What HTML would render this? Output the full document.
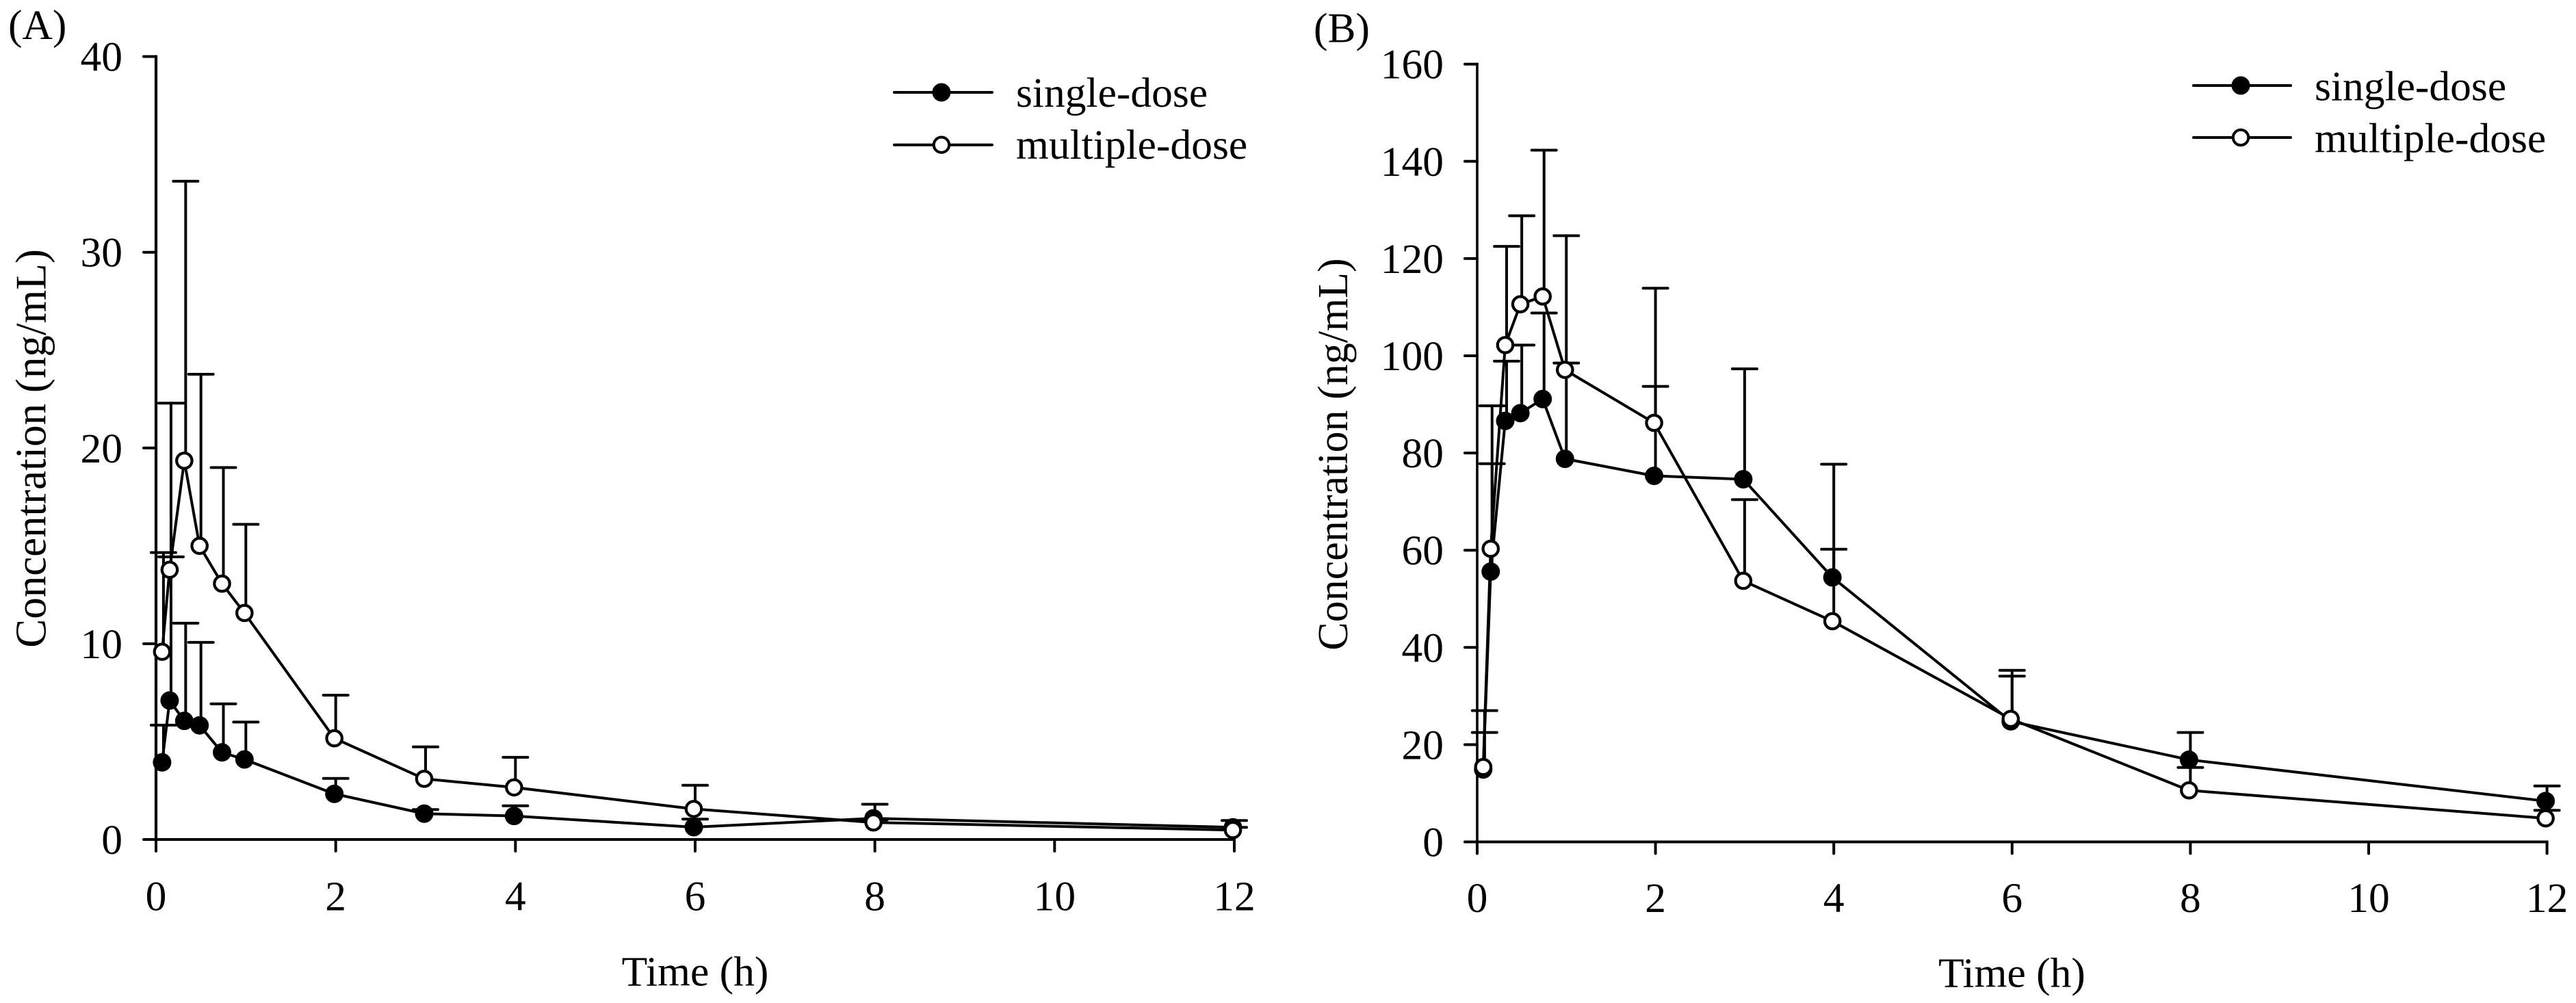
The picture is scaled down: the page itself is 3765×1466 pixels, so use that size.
<!DOCTYPE html>
<html lang="en">
<head>
<meta charset="utf-8">
<title>Concentration vs time, panels A and B</title>
<style>
  html, body { margin: 0; padding: 0; background: #fff; }
  svg { display: block; }
  text { font-family: "Liberation Serif", "Times New Roman", serif; font-size: 61.5px; fill: #000; }
</style>
</head>
<body>
<svg id="chart" xmlns="http://www.w3.org/2000/svg" width="3765" height="1466" viewBox="0 0 3765 1466">
  <rect x="0" y="0" width="3765" height="1466" fill="#fff"/>

  <g id="panel-a">
    <text x="12" y="57">(A)</text>
    <text transform="translate(66.5 655.5) rotate(-90)" text-anchor="middle" style="font-size:63px">Concentration (ng/mL)</text>
    <text x="1016" y="1440.5" text-anchor="middle">Time (h)</text>
    <g>
      <g>
        <line x1="1307" y1="135" x2="1450" y2="135" stroke="#000" stroke-width="4" stroke-linecap="round"/>
        <circle cx="1376" cy="135" r="13.5" fill="#000"/>
        <text x="1485" y="156">single-dose</text>
      </g>
      <g>
        <line x1="1307" y1="211.7" x2="1450" y2="211.7" stroke="#000" stroke-width="4" stroke-linecap="round"/>
        <circle cx="1376" cy="211.7" r="11.2" fill="#fff" stroke="#000" stroke-width="4"/>
        <text x="1485" y="232">multiple-dose</text>
      </g>
    </g>
  </g>

  <g id="panel-b">
    <text x="1920" y="61.5">(B)</text>
    <text transform="translate(1969 664) rotate(-90)" text-anchor="middle" style="font-size:62px">Concentration (ng/mL)</text>
    <text x="2940.5" y="1442.5" text-anchor="middle">Time (h)</text>
    <g>
      <g>
        <line x1="3206" y1="125" x2="3348" y2="125" stroke="#000" stroke-width="4" stroke-linecap="round"/>
        <circle cx="3275" cy="125" r="13.5" fill="#000"/>
        <text x="3383" y="146.7">single-dose</text>
      </g>
      <g>
        <line x1="3206" y1="201" x2="3348" y2="201" stroke="#000" stroke-width="4" stroke-linecap="round"/>
        <circle cx="3275" cy="201" r="11.2" fill="#fff" stroke="#000" stroke-width="4"/>
        <text x="3383" y="222.5">multiple-dose</text>
      </g>
    </g>
  </g>
</svg>

<script>
// Shared sampling times and tick labels
const timeHours = [0.083, 0.167, 0.33, 0.5, 0.75, 1, 2, 3, 4, 6, 8, 12];
const xTickLabels = [0, 2, 4, 6, 8, 10, 12];

// Panel A values (ng/mL)
const aYTickLabels = [0, 10, 20, 30, 40];
const aSingleMean = [3.94, 7.10, 6.06, 5.83, 4.45, 4.09, 2.33, 1.32, 1.20, 0.63, 1.08, 0.62];
const aSingleUpper = [5.84, 14.44, 11.05, 10.07, 6.93, 6.00, 3.12, 1.53, 1.72, 1.04, 1.80, 0.97];
const aMultipleMean = [9.59, 13.78, 19.35, 15.00, 13.07, 11.57, 5.17, 3.10, 2.66, 1.56, 0.87, 0.48];
const aMultipleUpper = [14.66, 22.29, 33.63, 23.77, 19.00, 16.10, 7.37, 4.73, 4.20, 2.77, 1.00, 0.62];

// Panel B values (ng/mL)
const bYTickLabels = [0, 20, 40, 60, 80, 100, 120, 140, 160];
const bSingleMean = [14.9, 55.6, 86.6, 88.2, 91.1, 78.8, 75.3, 74.6, 54.4, 24.8, 16.9, 8.4];
const bSingleUpper = [22.5, 77.8, 98.9, 102.2, 108.8, 98.5, 93.7, 97.3, 77.7, 34.1, 22.5, 11.5];
const bMultipleMean = [15.4, 60.3, 102.2, 110.6, 112.2, 97.1, 86.2, 53.7, 45.4, 25.3, 10.6, 4.85];
const bMultipleUpper = [27.0, 89.7, 122.5, 128.8, 142.3, 124.7, 113.9, 70.4, 60.2, 35.3, 15.3, 6.5];

const SVG_NS = 'http://www.w3.org/2000/svg';

function make(tag, parent, attrs) {
  const node = document.createElementNS(SVG_NS, tag);
  for (const key in attrs) node.setAttribute(key, attrs[key]);
  parent.appendChild(node);
  return node;
}

function drawSeries(root, label, times, mean, upper, filled, xAxis, yAxis) {
  const group = make('g', root, {});
  
  

  times.forEach(function (t, i) {
    const x = xAxis(t);
    const stem = make('line', group, { x1: x, x2: x, y1: yAxis(mean[i]), y2: yAxis(upper[i]), stroke: '#000', 'stroke-width': 4 });
    
    
    const cap = make('line', group, { x1: x - 18, x2: x + 18, y1: yAxis(upper[i]), y2: yAxis(upper[i]), stroke: '#000', 'stroke-width': 4, 'stroke-linecap': 'round' });
    
    
  });

  const markerShift = -2;
  const points = times.map(function (t, i) { return (xAxis(t) + markerShift) + ',' + yAxis(mean[i]); }).join(' ');
  const path = make('polyline', group, { points: points, fill: 'none', stroke: '#000', 'stroke-width': 4, 'stroke-linejoin': 'round' });
  
  

  times.forEach(function (t, i) {
    const dot = make('circle', group, filled
      ? { cx: xAxis(t) + markerShift, cy: yAxis(mean[i]), r: 13.5, fill: '#000' }
      : { cx: xAxis(t) + markerShift, cy: yAxis(mean[i]), r: 11.2, fill: '#fff', stroke: '#000', 'stroke-width': 4.2 });
    
    
  });
}

function drawAxes(root, frame, xAxis, yAxis, xTicks, yTicks) {
  const yMax = yTicks[yTicks.length - 1];
  const xMax = xTicks[xTicks.length - 1];
  const group = make('g', root, {});
  
  

  const yLine = make('line', group, { x1: xAxis(0), x2: xAxis(0), y1: yAxis(yMax) - 2, y2: yAxis(0), stroke: '#000', 'stroke-width': frame.axisWidth });
  
  
  const xLine = make('line', group, { x1: xAxis(0), x2: xAxis(xMax) + 2, y1: yAxis(0), y2: yAxis(0), stroke: '#000', 'stroke-width': 4 });
  
  

  yTicks.forEach(function (v) {
    const tick = make('line', group, { x1: xAxis(0) - 18, x2: xAxis(0), y1: yAxis(v), y2: yAxis(v), stroke: '#000', 'stroke-width': 4, 'stroke-linecap': 'round' });
    
    
    const text = make('text', group, { x: frame.yLabelRight, y: yAxis(v) + 21, 'text-anchor': 'end' });
    
    
    text.textContent = v;
  });

  xTicks.forEach(function (v) {
    const tick = make('line', group, { x1: xAxis(v), x2: xAxis(v), y1: yAxis(0), y2: yAxis(0) + 17, stroke: '#000', 'stroke-width': 4, 'stroke-linecap': 'round' });
    
    
    const text = make('text', group, { x: xAxis(v), y: frame.xLabelBase, 'text-anchor': 'middle' });
    
    
    text.textContent = v;
  });
}

function drawPanel(rootId, frame, yTicks, singleMean, singleUpper, multipleMean, multipleUpper) {
  const root = document.getElementById(rootId);
  const yMax = yTicks[yTicks.length - 1];
  const xMax = xTickLabels[xTickLabels.length - 1];
  const xAxis = function (t) { return frame.x0 + (frame.x1 - frame.x0) * t / xMax; };
  const yAxis = function (v) { return frame.y0 + (frame.y1 - frame.y0) * v / yMax; };
  drawAxes(root, frame, xAxis, yAxis, xTickLabels, yTicks);
  drawSeries(root, 'single-dose', timeHours, singleMean, singleUpper, true, xAxis, yAxis);
  drawSeries(root, 'multiple-dose', timeHours, multipleMean, multipleUpper, false, xAxis, yAxis);
}

drawPanel('panel-a', { x0: 228, x1: 1804, y0: 1227, y1: 82.6, axisWidth: 4.2, yLabelRight: 179, xLabelBase: 1330.5 },
  aYTickLabels, aSingleMean, aSingleUpper, aMultipleMean, aMultipleUpper);
drawPanel('panel-b', { x0: 2159, x1: 3722.6, y0: 1230.5, y1: 93.7, axisWidth: 3.6, yLabelRight: 2110, xLabelBase: 1333 },
  bYTickLabels, bSingleMean, bSingleUpper, bMultipleMean, bMultipleUpper);
</script>
</body>
</html>
